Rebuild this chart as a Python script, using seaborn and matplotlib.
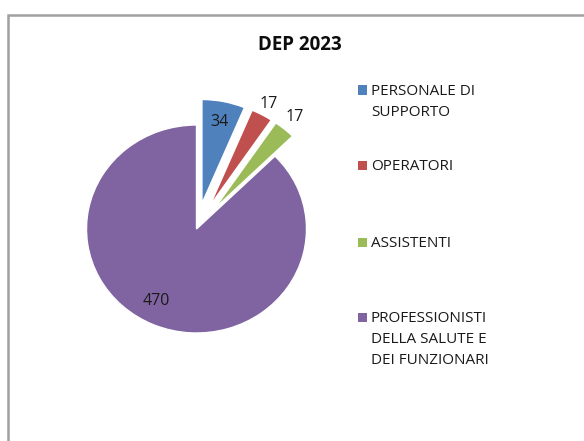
import matplotlib
matplotlib.use("Agg")
import matplotlib.pyplot as plt
import seaborn as sns
import numpy as np
from matplotlib.patches import Rectangle

categories = ["PERSONALE DI\nSUPPORTO", "OPERATORI", "ASSISTENTI",
              "PROFESSIONISTI\nDELLA SALUTE E\nDEI FUNZIONARI"]
values = [34, 17, 17, 470]
colors = ["#4F81BD", "#C0504D", "#9BBB59", "#8064A2"]
explode = [0.25, 0.25, 0.25, 0]
label_dist = [1.05, 1.37, 1.40, 0.78]
label_shift = [0, 0, 0, 5]  # degrees, small nudges like Excel's best fit

sns.set_theme(style="white")
plt.rcParams["font.family"] = ["Open Sans", "DejaVu Sans"]

W, H = 584, 441
fig = plt.figure(figsize=(W / 100, H / 100), dpi=100)

# chart frame (cropped on right and bottom)
fig.add_artist(Rectangle((8 / W, -0.1), 1.2, (H - 15) / H + 0.1,
                         transform=fig.transFigure, fill=False,
                         edgecolor="#A0A0A0", linewidth=1.8))

# pie axes: center at (196.5, 229) px, radius ~110 px wide, ~104 px tall
cx, cy, rx, ry, lim = 196.5, 229, 110, 104, 1.7
ax = fig.add_axes([(cx - lim * rx) / W, (H - cy - lim * ry) / H,
                   2 * lim * rx / W, 2 * lim * ry / H])
wedges, _ = ax.pie(values, colors=colors, explode=explode, startangle=90,
                   counterclock=False,
                   wedgeprops=dict(edgecolor="white", linewidth=1))
ax.set_aspect("auto")
ax.set_xlim(-lim, lim)
ax.set_ylim(-lim, lim)
ax.axis("off")

for w, v, d, s in zip(wedges, values, label_dist, label_shift):
    ang = np.deg2rad((w.theta1 + w.theta2) / 2 - s)
    ax.text(d * np.cos(ang), d * np.sin(ang), str(v), ha="center",
            va="center", fontsize=11.5, color="#1a1a1a")

fig.text(300 / W, 1 - 45 / H, "DEP 2023", ha="center", va="center",
         fontsize=13.5, fontweight="bold", color="#0d0d0d")

# legend
leg_y = [90, 165, 242, 317]
for lab, c, y in zip(categories, colors, leg_y):
    fig.add_artist(Rectangle((358 / W, 1 - (y + 4.5) / H), 9 / W, 9 / H,
                             transform=fig.transFigure, facecolor=c,
                             edgecolor="none"))
    fig.text(371 / W, 1 - (y - 6) / H, lab, ha="left", va="top",
             fontsize=11, color="#1a1a1a", linespacing=1.55)

fig.savefig("out.png", dpi=100, facecolor="white")
plt.close(fig)
